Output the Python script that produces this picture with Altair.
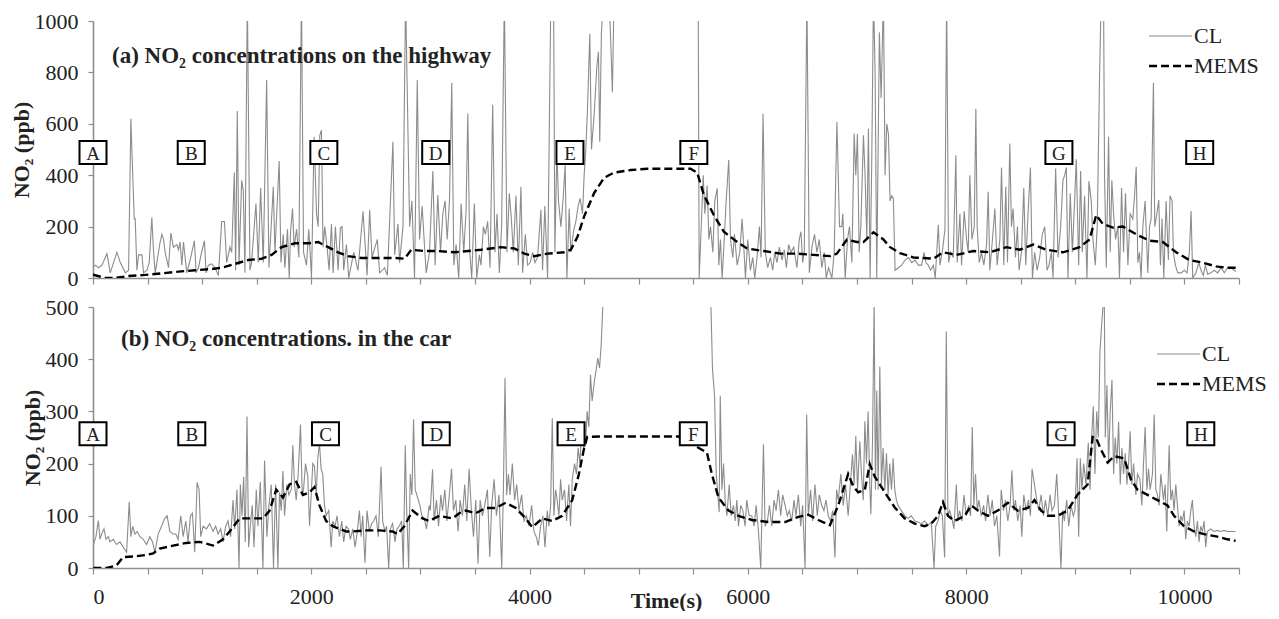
import altair as alt
import pandas as pd

FONT = "Liberation Serif"
GRAY = "#8c8c8c"
AXIS_GRAY = "#8f8f8f"
INK = "#222222"

SERIES = ["CL", "MEMS"]
LETTERS = ["A", "B", "C", "D", "E", "F", "G", "H"]
TOP_LETTER_T = [0, 900, 2115, 3140, 4370, 5505, 8850, 10140]
TOP_LETTER_Y = 488
BOT_LETTER_T = [0, 905, 2130, 3145, 4380, 5500, 8870, 10150]
BOT_LETTER_Y = 257
TOP_TITLE = "(a) NO\u2082 concentrations on the highway"
BOT_TITLE = "(b) NO\u2082 concentrations. in the car"
X_TITLE = "Time(s)"
Y_TITLE = "NO\u2082 (ppb)"
X_TICKS = list(range(0, 10501, 500))
TOP_Y_TICKS = [0, 200, 400, 600, 800, 1000]
BOT_Y_TICKS = [0, 100, 200, 300, 400, 500]

# (time s, NO2 ppb); values above the axis top are clipped
TOP_CL = [(0,40),(21,50),(52,40),(82,50),(128,95),(158,20),(219,100),(250,60),(296,20),(326,30),(347,620),(366,375),(378,230),(387,230),(402,30),(417,90),(448,90),(463,20),(494,30),(515,60),(539,235),(555,100),(570,20),(615,140),(631,170),(646,150),(661,100),(692,40),(713,175),(737,120),(768,130),(783,110),(798,140),(814,50),(829,140),(859,20),(890,70),(929,145),(945,20),(966,40),(990,90),(1021,145),(1036,20),(1057,50),(1088,55),(1118,40),(1149,10),(1179,220),(1204,220),(1225,60),(1255,120),(1271,100),(1295,410),(1307,30),(1322,650),(1338,50),(1362,380),(1377,340),(1392,20),(1414,1100),(1438,30),(1453,60),(1493,290),(1514,60),(1536,350),(1560,60),(1591,770),(1612,40),(1652,355),(1667,100),(1706,455),(1722,60),(1743,170),(1758,40),(1782,190),(1798,0),(1810,180),(1828,270),(1843,120),(1865,190),(1886,80),(1910,1100),(1929,100),(1956,50),(1977,190),(2002,0),(2026,550),(2048,250),(2063,200),(2078,555),(2093,575),(2108,120),(2124,200),(2145,120),(2163,30),(2185,210),(2200,20),(2221,200),(2246,30),(2267,195),(2282,200),(2297,30),(2322,130),(2343,0),(2389,100),(2428,30),(2474,260),(2489,160),(2511,10),(2535,265),(2556,80),(2605,150),(2626,20),(2672,40),(2697,10),(2748,530),(2764,90),(2794,210),(2809,60),(2840,200),(2864,1100),(2901,200),(2922,300),(2946,0),(2971,770),(2992,150),(3016,280),(3038,120),(3053,20),(3083,100),(3114,416),(3135,50),(3159,323),(3184,100),(3205,250),(3226,300),(3245,150),(3266,300),(3287,760),(3306,50),(3327,130),(3351,0),(3373,290),(3397,100),(3418,260),(3434,640),(3452,100),(3470,0),(3494,290),(3516,0),(3540,90),(3555,50),(3577,200),(3595,170),(3616,220),(3638,40),(3662,674),(3683,100),(3702,250),(3723,20),(3744,200),(3769,1100),(3793,100),(3814,330),(3830,250),(3851,100),(3875,320),(3897,50),(3921,355),(3936,20),(3961,170),(3982,50),(4006,60),(4028,100),(4049,60),(4073,80),(4104,265),(4119,30),(4140,280),(4165,0),(4195,1100),(4220,1100),(4232,100),(4250,500),(4265,300),(4287,200),(4308,310),(4326,440),(4342,0),(4363,270),(4378,100),(4402,180),(4424,220),(4445,280),(4463,310),(4485,250),(4500,400),(4515,500),(4530,650),(4552,950),(4567,500),(4591,630),(4616,820),(4631,880),(4643,530),(4658,950),(4677,1100),(4698,1000),(4729,1100),(4759,723),(4774,1100),(5545,1100),(5554,0),(5573,200),(5591,400),(5606,250),(5627,360),(5643,150),(5658,200),(5679,100),(5697,300),(5719,349),(5734,50),(5749,150),(5764,0),(5780,120),(5801,300),(5825,459),(5841,150),(5862,80),(5877,170),(5902,50),(5926,100),(5947,230),(5963,120),(5978,0),(5999,150),(6023,30),(6045,80),(6063,0),(6084,80),(6106,200),(6121,80),(6139,640),(6160,100),(6182,40),(6206,80),(6228,30),(6246,100),(6267,60),(6288,120),(6313,70),(6334,110),(6353,40),(6374,130),(6395,100),(6420,120),(6450,40),(6471,150),(6487,180),(6502,60),(6517,100),(6541,1100),(6563,20),(6587,120),(6611,170),(6633,100),(6654,150),(6678,40),(6700,100),(6718,0),(6740,40),(6770,0),(6791,100),(6816,607),(6840,200),(6861,200),(6870,250),(6892,0),(6913,150),(6931,200),(6953,60),(6974,562),(6989,400),(7004,560),(7020,100),(7035,200),(7059,555),(7074,400),(7090,150),(7105,581),(7120,0),(7135,450),(7151,1100),(7166,800),(7181,0),(7205,956),(7221,700),(7242,1100),(7257,400),(7273,600),(7288,560),(7303,300),(7318,320),(7333,310),(7349,30),(7379,40),(7410,50),(7440,70),(7471,80),(7501,60),(7532,70),(7562,50),(7592,50),(7614,100),(7632,60),(7653,50),(7675,30),(7699,50),(7717,0),(7745,207),(7760,50),(7781,100),(7806,190),(7821,1100),(7839,60),(7858,100),(7882,80),(7906,478),(7918,60),(7943,250),(7958,50),(7982,260),(8004,150),(8019,100),(8034,400),(8053,150),(8074,200),(8089,659),(8101,200),(8120,60),(8141,100),(8162,50),(8187,130),(8202,336),(8217,30),(8241,150),(8263,270),(8284,50),(8309,150),(8324,430),(8345,50),(8363,355),(8379,60),(8400,523),(8415,200),(8430,270),(8452,80),(8470,200),(8485,30),(8507,100),(8528,350),(8546,50),(8567,250),(8589,430),(8607,0),(8628,100),(8650,30),(8674,80),(8698,170),(8720,200),(8741,30),(8759,50),(8781,100),(8796,0),(8820,426),(8842,80),(8866,200),(8887,380),(8903,400),(8918,430),(8933,0),(8954,330),(8973,100),(8994,300),(9009,462),(9031,50),(9049,416),(9064,100),(9085,320),(9107,0),(9125,377),(9146,300),(9162,150),(9183,50),(9201,200),(9223,800),(9238,1100),(9259,1100),(9268,400),(9284,40),(9305,550),(9320,100),(9335,380),(9351,250),(9369,150),(9390,200),(9405,0),(9424,350),(9442,100),(9460,330),(9482,50),(9503,250),(9527,230),(9543,320),(9558,433),(9573,60),(9588,100),(9603,0),(9619,200),(9640,300),(9664,20),(9680,200),(9695,230),(9716,760),(9728,200),(9747,250),(9765,303),(9780,50),(9795,230),(9811,0),(9832,300),(9853,70),(9868,320),(9887,300),(9899,100),(9917,50),(9939,20),(9969,20),(9999,30),(10024,20),(10045,100),(10061,261),(10076,0),(10106,20),(10131,60),(10152,30),(10173,10),(10192,50),(10213,15),(10243,20),(10274,30),(10304,20),(10335,40),(10365,20),(10396,40),(10426,40),(10457,30),(10472,25)]

TOP_MEMS = [(0,13),(113,0),(204,0),(326,8),(478,12),(631,18),(783,25),(935,30),(1088,35),(1179,40),(1301,55),(1423,70),(1545,75),(1636,90),(1728,120),(1850,135),(1971,135),(2063,140),(2154,120),(2246,100),(2337,85),(2459,78),(2764,78),(2855,75),(2916,110),(3038,105),(3159,105),(3312,100),(3555,110),(3738,120),(3860,115),(3952,95),(4043,85),(4165,95),(4317,100),(4378,110),(4439,160),(4500,240),(4591,330),(4683,390),(4774,410),(4927,420),(5079,425),(5475,425),(5536,410),(5597,323),(5688,245),(5780,180),(5902,140),(5993,115),(6145,105),(6298,95),(6450,95),(6602,90),(6755,85),(6816,95),(6907,149),(6998,140),(7059,140),(7151,178),(7242,150),(7303,120),(7394,97),(7516,80),(7699,75),(7790,100),(7912,90),(8065,105),(8217,100),(8369,120),(8491,110),(8613,130),(8735,110),(8887,100),(9040,120),(9131,150),(9192,245),(9253,210),(9344,196),(9436,200),(9558,170),(9680,145),(9802,140),(9924,100),(10045,70),(10167,60),(10289,45),(10381,40),(10472,40)]

BOT_CL = [(3,45),(27,60),(49,91),(64,55),(79,65),(101,75),(119,55),(140,60),(155,50),(186,55),(216,45),(247,50),(277,40),(308,30),(332,127),(347,60),(363,80),(384,65),(405,70),(430,60),(460,55),(491,45),(521,60),(545,50),(567,30),(597,65),(628,80),(658,95),(679,100),(704,70),(734,65),(759,65),(780,55),(804,100),(826,60),(850,90),(871,50),(893,100),(911,105),(932,30),(954,164),(972,150),(987,60),(1009,80),(1039,75),(1069,85),(1100,70),(1124,80),(1146,65),(1170,75),(1191,50),(1216,80),(1237,90),(1261,60),(1283,130),(1298,75),(1319,150),(1338,0),(1350,160),(1365,100),(1380,175),(1395,50),(1411,290),(1426,40),(1441,80),(1459,120),(1475,40),(1496,150),(1511,80),(1533,165),(1557,0),(1572,206),(1593,60),(1612,120),(1633,160),(1654,0),(1673,160),(1694,0),(1709,145),(1725,110),(1740,186),(1755,100),(1776,160),(1795,140),(1816,150),(1831,235),(1846,160),(1862,130),(1880,180),(1901,275),(1917,140),(1929,150),(1947,200),(1968,175),(1984,81),(1999,140),(2014,200),(2029,195),(2045,140),(2060,210),(2075,240),(2090,190),(2105,180),(2121,120),(2136,100),(2160,110),(2182,40),(2197,90),(2218,80),(2236,100),(2258,60),(2279,90),(2297,50),(2319,80),(2340,75),(2358,55),(2380,75),(2401,40),(2419,65),(2441,110),(2456,60),(2471,100),(2492,10),(2511,110),(2532,70),(2553,85),(2572,90),(2593,100),(2614,60),(2639,194),(2654,90),(2675,70),(2690,80),(2709,0),(2724,75),(2745,85),(2767,50),(2785,75),(2806,80),(2828,90),(2843,0),(2861,235),(2873,120),(2892,0),(2907,180),(2922,140),(2937,285),(2952,150),(2974,135),(2995,120),(3013,100),(3035,95),(3056,75),(3080,120),(3090,110),(3111,189),(3126,90),(3147,130),(3166,80),(3187,140),(3202,110),(3224,150),(3242,90),(3263,135),(3285,190),(3303,110),(3324,130),(3345,70),(3364,130),(3385,100),(3406,160),(3425,90),(3446,190),(3467,110),(3486,60),(3507,130),(3528,8),(3547,130),(3568,100),(3589,120),(3614,150),(3635,21),(3653,120),(3675,170),(3696,100),(3720,140),(3745,0),(3760,150),(3775,364),(3790,140),(3806,180),(3821,140),(3842,200),(3863,130),(3882,160),(3903,110),(3927,140),(3949,90),(3970,100),(3994,80),(4019,120),(4040,70),(4061,60),(4080,43),(4101,80),(4122,100),(4141,40),(4162,110),(4177,80),(4193,120),(4208,287),(4223,100),(4238,150),(4253,130),(4269,100),(4284,170),(4299,130),(4320,150),(4339,90),(4360,160),(4375,80),(4391,170),(4412,200),(4430,180),(4445,230),(4461,200),(4476,260),(4497,230),(4513,240),(4528,300),(4543,270),(4558,370),(4573,320),(4595,360),(4610,380),(4625,402),(4641,383),(4656,427),(4671,500),(4683,560),(5655,560),(5676,380),(5695,330),(5710,180),(5725,140),(5737,107),(5747,330),(5762,150),(5777,200),(5792,130),(5808,100),(5829,160),(5847,100),(5868,120),(5884,90),(5899,130),(5914,80),(5935,120),(5954,110),(5975,80),(5990,130),(6012,100),(6036,100),(6057,80),(6076,120),(6097,70),(6118,0),(6143,237),(6158,80),(6179,90),(6198,120),(6219,80),(6240,130),(6259,110),(6280,150),(6301,100),(6319,140),(6341,120),(6362,100),(6380,110),(6402,90),(6423,130),(6441,100),(6463,140),(6484,80),(6502,120),(6524,0),(6539,294),(6554,100),(6575,150),(6593,90),(6615,160),(6636,100),(6655,140),(6676,120),(6697,110),(6716,130),(6737,100),(6758,90),(6777,110),(6798,20),(6813,150),(6828,130),(6852,180),(6874,120),(6895,160),(6919,100),(6959,218),(6974,160),(6989,253),(7005,150),(7026,243),(7041,180),(7057,130),(7072,281),(7087,200),(7102,300),(7117,160),(7127,103),(7142,240),(7157,510),(7169,150),(7181,340),(7194,150),(7209,386),(7224,160),(7239,230),(7255,150),(7270,220),(7285,140),(7300,200),(7316,150),(7331,210),(7346,150),(7361,130),(7376,120),(7407,110),(7437,100),(7468,95),(7498,100),(7529,90),(7559,88),(7590,85),(7620,90),(7651,82),(7681,88),(7706,0),(7721,80),(7742,90),(7763,110),(7782,100),(7803,20),(7818,453),(7833,100),(7849,110),(7870,95),(7888,75),(7910,160),(7925,90),(7940,110),(7961,90),(7980,140),(8001,100),(8022,120),(8041,100),(8056,270),(8071,120),(8086,180),(8102,110),(8117,130),(8138,100),(8160,120),(8178,90),(8199,140),(8220,100),(8239,130),(8260,80),(8281,100),(8306,22),(8321,150),(8342,110),(8361,130),(8382,90),(8403,120),(8419,187),(8437,110),(8452,130),(8473,90),(8495,120),(8510,60),(8528,140),(8550,110),(8571,130),(8589,100),(8604,190),(8626,160),(8647,130),(8665,110),(8687,140),(8708,100),(8726,130),(8748,100),(8769,140),(8787,110),(8809,120),(8830,180),(8848,100),(8869,0),(8885,110),(8900,90),(8921,130),(8940,80),(8961,120),(8982,100),(8997,110),(9016,210),(9031,60),(9046,210),(9061,150),(9077,200),(9098,160),(9119,240),(9135,150),(9150,250),(9165,310),(9180,180),(9196,300),(9211,250),(9226,414),(9241,465),(9257,510),(9266,510),(9275,250),(9290,350),(9305,200),(9320,300),(9336,360),(9351,180),(9366,250),(9381,200),(9397,280),(9412,160),(9427,230),(9442,180),(9458,220),(9473,160),(9488,200),(9503,262),(9518,160),(9534,200),(9555,140),(9570,180),(9592,170),(9610,120),(9625,200),(9640,270),(9656,150),(9671,190),(9686,150),(9707,180),(9723,294),(9738,150),(9753,140),(9768,120),(9784,180),(9808,130),(9823,160),(9838,70),(9860,235),(9875,130),(9890,150),(9905,110),(9921,160),(9936,120),(9951,80),(9966,100),(9982,90),(9997,110),(10012,55),(10027,90),(10043,80),(10058,110),(10073,130),(10088,80),(10104,60),(10119,90),(10134,50),(10149,80),(10165,70),(10180,90),(10195,40),(10210,70),(10241,75),(10271,70),(10302,72),(10332,70),(10363,72),(10393,70),(10423,70),(10469,70)]

BOT_MEMS = [(3,0),(125,0),(216,5),(277,21),(369,22),(491,25),(551,28),(612,37),(734,43),(856,48),(978,50),(1100,43),(1191,55),(1252,70),(1344,95),(1466,95),(1557,95),(1618,110),(1679,150),(1740,135),(1801,160),(1862,165),(1923,140),(1984,145),(2029,155),(2075,120),(2136,90),(2197,80),(2319,70),(2380,70),(2502,72),(2623,72),(2745,70),(2791,65),(2852,80),(2928,110),(3019,95),(3080,90),(3172,100),(3294,95),(3355,105),(3416,110),(3507,105),(3598,115),(3690,115),(3781,125),(3873,115),(3964,95),(4025,78),(4116,95),(4208,90),(4299,100),(4391,130),(4452,180),(4497,227),(4528,251),(4665,252),(5366,252),(5625,221),(5670,180),(5731,135),(5823,110),(5914,100),(6036,92),(6188,88),(6341,88),(6463,98),(6554,102),(6645,92),(6752,82),(6828,120),(6874,150),(6919,180),(6965,157),(7011,145),(7072,150),(7117,199),(7163,175),(7209,160),(7270,140),(7346,116),(7437,95),(7529,85),(7620,80),(7681,85),(7742,100),(7788,126),(7833,100),(7894,90),(7986,100),(8047,120),(8108,110),(8199,100),(8290,110),(8382,125),(8473,110),(8565,115),(8626,130),(8687,110),(8748,100),(8839,100),(8930,110),(9022,141),(9113,160),(9159,251),(9189,250),(9235,227),(9296,202),(9357,214),(9448,210),(9509,170),(9570,150),(9662,140),(9753,130),(9845,120),(9905,100),(9997,80),(10088,70),(10180,65),(10302,60),(10393,55),(10469,52)]

W = 1146
BOX_SHAPE = "M -1 -0.85 L 1 -0.85 L 1 0.85 L -1 0.85 Z"


def panel(cl, mems, ymax, yticks, letter_t, letter_y, title, title_xy,
          legend_xy, height, bottom):
    df_cl = pd.DataFrame(cl, columns=["t", "v"])
    df_m = pd.DataFrame(mems, columns=["t", "v"])
    if bottom:
        xaxis = alt.Axis(values=X_TICKS, title=X_TITLE,
                         labelExpr="datum.value % 2000 === 0 ? format(datum.value, 'd') : ''")
    else:
        xaxis = alt.Axis(values=X_TICKS, title=None, labels=False)
    xenc = alt.X("t:Q", scale=alt.Scale(domain=[0, 10500], nice=False, zero=False), axis=xaxis)
    yenc = alt.Y("v:Q", scale=alt.Scale(domain=[0, ymax], nice=False),
                 axis=alt.Axis(values=yticks, title=Y_TITLE, format="d"))

    cl_line = alt.Chart(df_cl).mark_line(color=GRAY, strokeWidth=1.1, clip=True).encode(x=xenc, y=yenc)
    m_line = alt.Chart(df_m).mark_line(color="black", strokeWidth=2.4, strokeDash=[8, 4], clip=True).encode(x="t:Q", y="v:Q")

    df_lab = pd.DataFrame({"t": letter_t, "v": [letter_y] * len(letter_t), "s": LETTERS})
    boxes = alt.Chart(df_lab).mark_point(shape=BOX_SHAPE, size=729, filled=True, fill="white",
                                         stroke="black", strokeWidth=2, opacity=1).encode(x="t:Q", y="v:Q")
    letters = alt.Chart(df_lab).mark_text(font=FONT, fontSize=19, color=INK, baseline="middle", dy=1).encode(
        x="t:Q", y="v:Q", text="s:N")

    ttl = alt.Chart(pd.DataFrame({"s": [title]})).mark_text(
        align="left", baseline="alphabetic", font=FONT, fontSize=23, fontWeight="bold", color=INK
    ).encode(x=alt.value(title_xy[0]), y=alt.value(title_xy[1]), text="s:N")

    lx, ly = legend_xy
    leg_cl = alt.Chart(pd.DataFrame({"s": [SERIES[0]]})).mark_rule(color=GRAY, strokeWidth=1.2).encode(
        x=alt.value(lx), x2=alt.value(lx + 43), y=alt.value(ly))
    leg_m = alt.Chart(pd.DataFrame({"s": [SERIES[1]]})).mark_rule(color="black", strokeWidth=2.4, strokeDash=[8, 4]).encode(
        x=alt.value(lx), x2=alt.value(lx + 43), y=alt.value(ly + 30))
    leg_t1 = alt.Chart(pd.DataFrame({"s": [SERIES[0]]})).mark_text(
        align="left", baseline="middle", font=FONT, fontSize=22, color=INK).encode(
        x=alt.value(lx + 45), y=alt.value(ly), text="s:N")
    leg_t2 = alt.Chart(pd.DataFrame({"s": [SERIES[1]]})).mark_text(
        align="left", baseline="middle", font=FONT, fontSize=22, color=INK).encode(
        x=alt.value(lx + 45), y=alt.value(ly + 30), text="s:N")

    return alt.layer(cl_line, m_line, boxes, letters, ttl, leg_cl, leg_m, leg_t1, leg_t2).properties(
        width=W, height=height)


top = panel(TOP_CL, TOP_MEMS, 1000, TOP_Y_TICKS, TOP_LETTER_T, TOP_LETTER_Y, TOP_TITLE,
            (19, 42), (1056, 15), 257, False)
bot = panel(BOT_CL, BOT_MEMS, 500, BOT_Y_TICKS, BOT_LETTER_T, BOT_LETTER_Y, BOT_TITLE,
            (28, 39), (1064, 47), 261, True)

chart = alt.vconcat(top, bot, spacing=7).properties(
    padding={"left": 2, "top": 2, "right": 0, "bottom": 0}
).configure_view(stroke=None).configure_axis(
    grid=False,
    domainColor=AXIS_GRAY, domainWidth=1.6,
    tickColor=AXIS_GRAY, tickWidth=1.2,
    labelFont=FONT, labelFontSize=22, labelColor=INK,
    titleFont=FONT, titleFontSize=22, titleFontWeight="bold", titleColor=INK,
).configure_axisX(
    tickSize=6, labelPadding=12, titlePadding=-17
).configure_axisY(
    tickSize=5, labelPadding=10, titlePadding=1
)

chart.save("out.html", embed_options={"renderer": "svg", "actions": False})
